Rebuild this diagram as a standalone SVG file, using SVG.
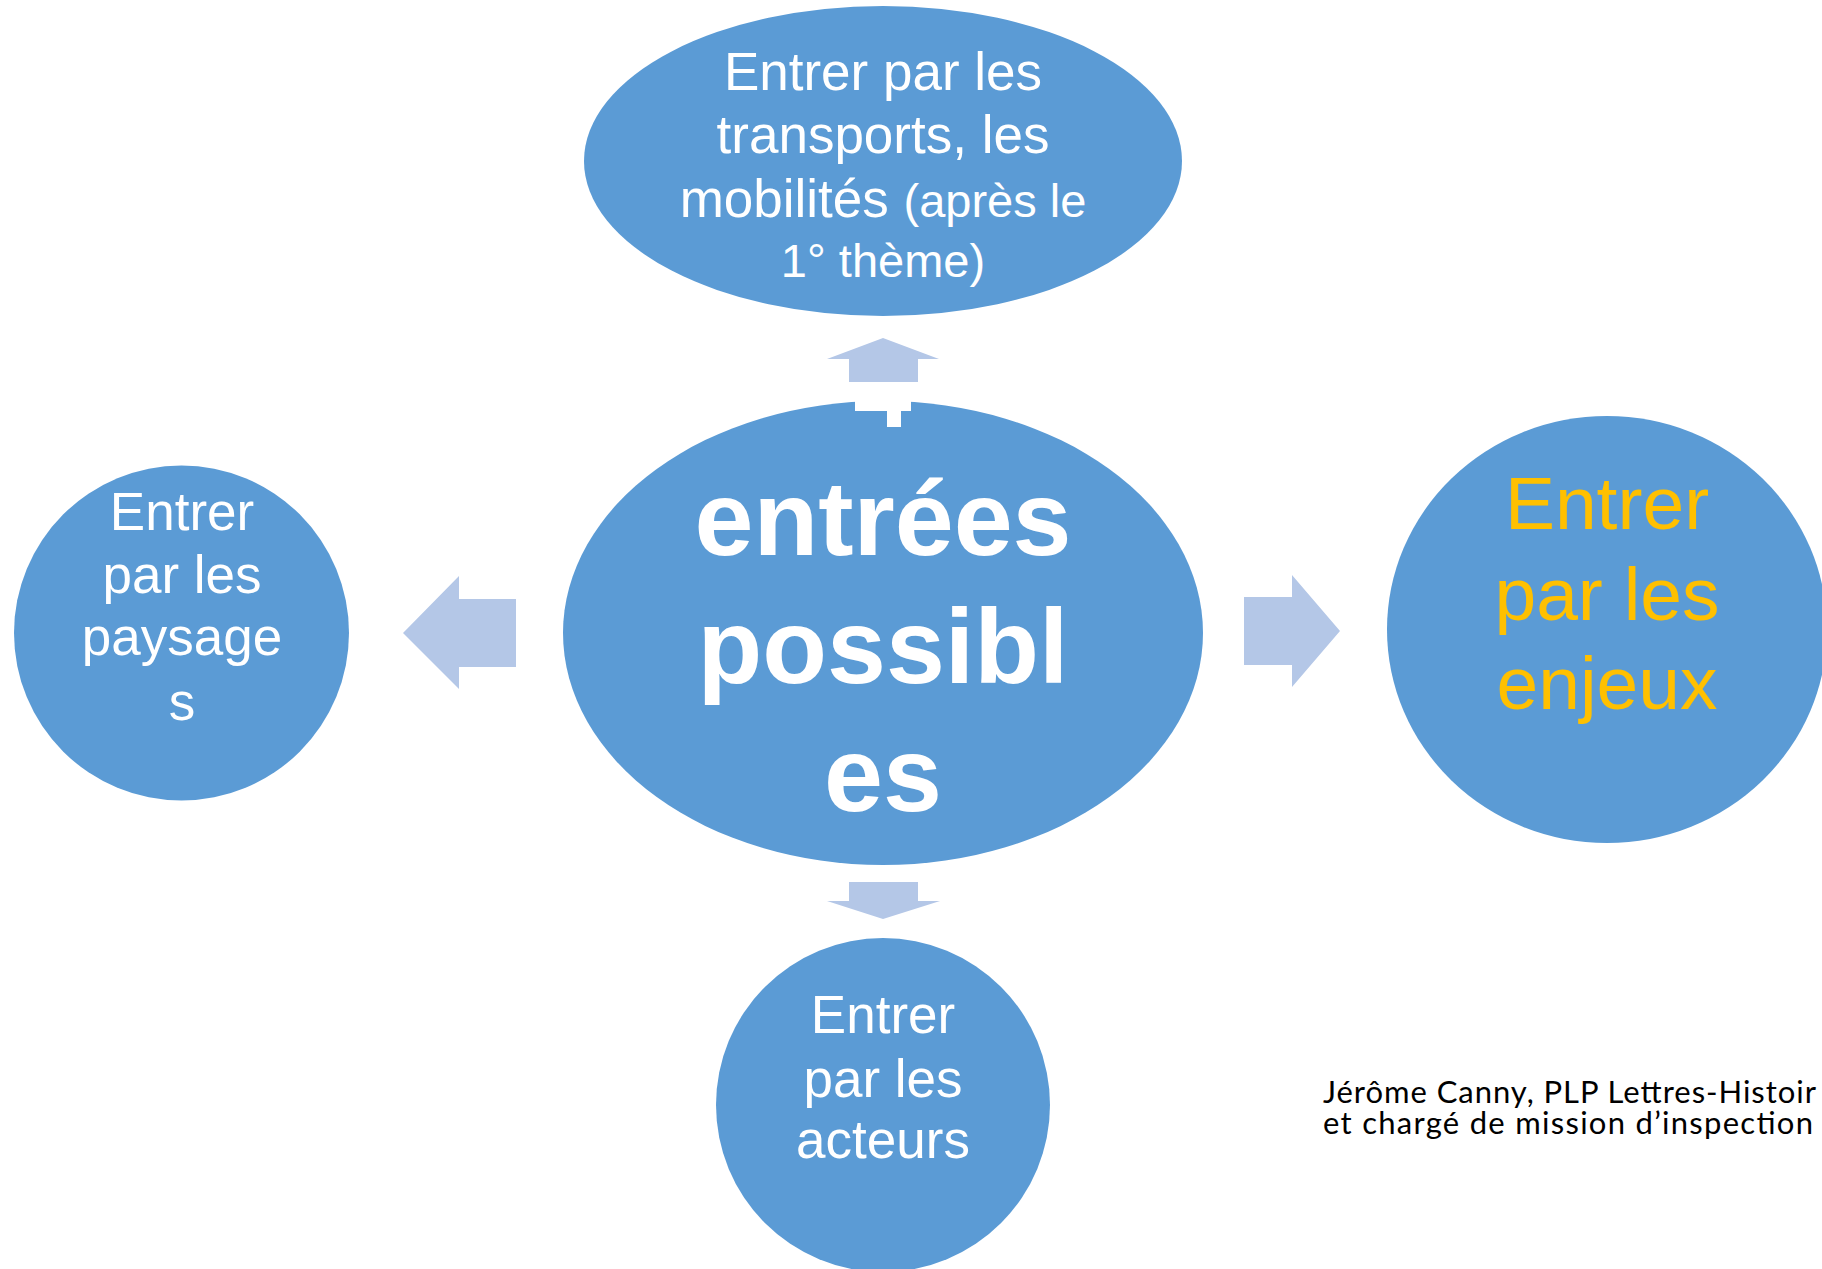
<svg xmlns="http://www.w3.org/2000/svg" width="1822" height="1269" viewBox="0 0 1822 1269">
<style>
.node{fill:#5B9BD5}
.arrow{fill:#B4C7E7}
.t{font-family:"Liberation Sans",Arial,sans-serif;fill:#FFFFFF;text-anchor:middle}
.n52{font-size:53px}
.n46{font-size:47px}
.big{font-size:106px;font-weight:bold}
.yel{font-size:75px;fill:#FFC000}
.credit{font-family:Lato,"Open Sans",sans-serif;font-size:31px;fill:#000000}
</style>
<rect width="1822" height="1269" fill="#FFFFFF"/>
<g id="connectors">
<polygon class="arrow" points="883,338 939,359 918,359 918,382 849,382 849,359 827,359"/>
<polygon class="arrow" points="849,882 918,882 918,901 940,901 883,919 827,901 849,901"/>
<polygon class="arrow" points="403,633 459,576 459,599 516,599 516,667 459,667 459,689"/>
<polygon class="arrow" points="1244,597 1292,597 1292,575 1340,631 1292,687 1292,665 1244,665"/>
</g>
<g id="node-top">
<ellipse class="node" cx="883" cy="161" rx="299" ry="155"/>
<text class="t n52" x="883" y="90">Entrer par les</text>
<text class="t n52" x="883" y="153">transports, les</text>
<text class="t" x="883" y="217"><tspan class="n52">mobilités </tspan><tspan class="n46">(après le</tspan></text>
<text class="t n46" x="883" y="277">1° thème)</text>
</g>
<g id="node-center">
<ellipse class="node" cx="883" cy="633" rx="320" ry="232"/>
<polygon fill="#FFFFFF" points="855,395 911,395 911,411 901,411 901,427 887,427 887,411 855,411"/>
<text class="t big" x="883" y="555">entrées</text>
<text class="t big" x="883" y="683">possibl</text>
<text class="t big" x="883" y="811">es</text>
</g>
<g id="node-left">
<circle class="node" cx="181.5" cy="633" r="167.5"/>
<text class="t n52" x="182" y="530">Entrer</text>
<text class="t n52" x="182" y="593">par les</text>
<text class="t n52" x="182" y="655">paysage</text>
<text class="t n52" x="182" y="720">s</text>
</g>
<g id="node-right">
<ellipse class="node" cx="1607" cy="629.5" rx="220" ry="213.5"/>
<text class="t yel" x="1607" y="529">Entrer</text>
<text class="t yel" x="1607" y="620">par les</text>
<text class="t yel" x="1607" y="709">enjeux</text>
</g>
<g id="node-bottom">
<circle class="node" cx="883" cy="1105" r="167"/>
<text class="t n52" x="883" y="1033">Entrer</text>
<text class="t n52" x="883" y="1097">par les</text>
<text class="t n52" x="883" y="1158">acteurs</text>
</g>
<g id="credit">
<text class="credit" x="1323" y="1103" textLength="493" lengthAdjust="spacing">Jérôme Canny, PLP Lettres-Histoir</text>
<text class="credit" x="1323" y="1134" textLength="490" lengthAdjust="spacing">et chargé de mission d’inspection</text>
</g>
</svg>
